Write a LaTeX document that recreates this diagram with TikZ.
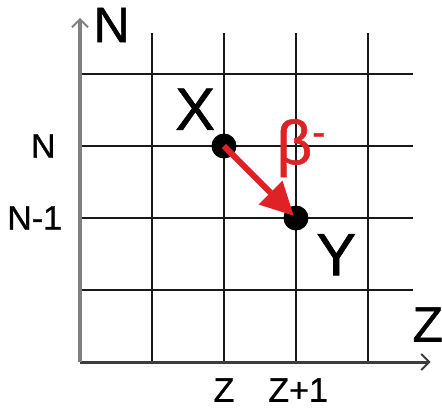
\documentclass[tikz,border=0pt]{standalone}
\usepackage{fontspec}
\setmainfont{Liberation Sans}[FakeBold=0.9]
\usetikzlibrary{arrows.meta}
\definecolor{decayred}{RGB}{222,34,38}
\definecolor{axisgray}{gray}{0.5}
\definecolor{gridgray}{gray}{0.1}

\begin{document}
\begin{tikzpicture}[
  x=72pt, y=72pt,
  gridline/.style={line width=2pt, color=gridgray},
  axisline/.style={line width=3pt, -{Straight Barb[length=8pt, width=16pt, line width=2pt]}},
  nuclide/.style={circle, fill=black, minimum size=25pt, inner sep=0pt},
  ticklabel/.style={font=\fontsize{34}{34}\selectfont, inner sep=0pt},
  axislabel/.style={font=\fontsize{50}{50}\selectfont, inner sep=0pt},
  namelabel/.style={font=\fontsize{60}{60}\selectfont, inner sep=0pt},
  decay/.style={line width=6pt, color=decayred, -{Triangle[length=33pt, width=32pt]}, shorten >=3pt},
]
  \useasboundingbox (-1.111,-0.653) rectangle (5.028,5.028);

  % grid
  \foreach \i in {1,...,4}
    \draw[gridline] (\i,0) -- (\i,4.57);
  \foreach \j in {1,...,4}
    \draw[gridline] (0,\j) -- (4.625,\j);

  % axes
  \coordinate (origin) at (0,0);
  \coordinate (ntip) at (0,4.78);
  \coordinate (ztip) at (4.87,0);
  \draw[axisline, color=gridgray!85] (origin) -- (ztip);
  \draw[axisline, color=axisgray, line width=4pt] (origin) -- (ntip);
  \node[axislabel] (nlabel) at (0.44,4.68) {N};
  \node[axislabel] (zlabel) at (4.83,0.52) {Z};

  % tick labels
  \node[ticklabel] (nrow) at (-0.51,3) {N};
  \node[ticklabel] (nminus) at (-0.63,2) {N-1};
  \node[ticklabel] (zcol) at (2,-0.39) {Z};
  \node[ticklabel] (zplus) at (3.03,-0.39) {Z+1};

  % nuclides
  \node[nuclide] (x) at (2,3) {};
  \node[nuclide] (y) at (3,2) {};
  \node[namelabel] (xlabel) at (1.6,3.51) {X};
  \node[namelabel] (ylabel) at (3.56,1.49) {Y};

  % beta decay
  \draw[decay] (x.center) -- (y.center);
  \node[color=decayred, inner sep=0pt, font=\fontsize{62}{62}\selectfont] (beta) at (3.07,2.97) {β\raisebox{0.3em}{\fontsize{40}{40}\selectfont -}};
\end{tikzpicture}
\end{document}
